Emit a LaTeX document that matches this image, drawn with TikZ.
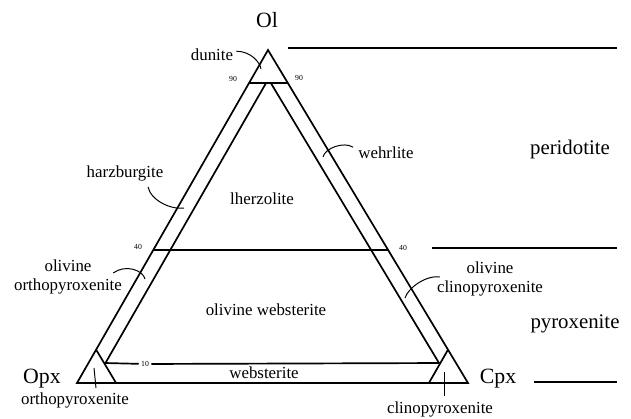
\documentclass[tikz,border=0pt]{standalone}
\usepackage{fontspec}
\setmainfont{Liberation Serif}
\usetikzlibrary{calc}
\tikzstyle{rock} = [inner sep=0pt, 
			anchor=base, 
			font=\fontsize{12}{12.5}\selectfont]
\tikzstyle{rocks} = [inner sep=0pt, 
			align=center, 
			font=\fontsize{12}{13}\selectfont]
\tikzstyle{group} = [inner sep=0pt, 
			anchor=base, 
			font=\fontsize{14.8}{16}\selectfont]
\tikzstyle{pole} = [inner sep=0pt, 
			anchor=base, 
			font=\fontsize{15.5}{17}\selectfont]
\tikzstyle{num} = [inner sep=1.5pt, 
			font=\fontsize{5.5}{6}\selectfont]
\tikzstyle{line} = [draw, line width=1.2pt]
\tikzstyle{leader} = [draw, line width=0.7pt]

\begin{document}
\begin{tikzpicture}[x=0.025cm, y=-0.025cm]
	\useasboundingbox (0,0) rectangle (631,419);
	% corners of the triangle
	\coordinate (ct) at (268,50);
	\coordinate (cl) at (77,383);
	\coordinate (cr) at (468,383);
	% end points of the leaders
	\coordinate (dune) at (261,69);
	\coordinate (hzbe) at (184,208);
	\coordinate (wehe) at (323,157);
	\coordinate (oopxe) at (145,279);
	\coordinate (ocpxe) at (405,298);
	\coordinate (opxe) at (94,368);
	\coordinate (cpxe) at (444,372);

	\draw [line] (ct) -- (cl) -- (cr) -- cycle;
	\draw [line] ($(ct)!0.1!(cl)$) -- ($(ct)!0.1!(cr)$);
	\draw [line] ($(ct)!0.6!(cl)$) -- ($(ct)!0.6!(cr)$);
	\draw [line] ($(cl)!0.1!(ct)$) -- ($(cl)!0.1!(cr)$);
	\draw [line] ($(cr)!0.1!(ct)$) -- ($(cr)!0.1!(cl)$);

	% inner lines at 10 per cent
	\coordinate (itl) at ($(ct)!0.1!(cl)+(17,0)$);
	\coordinate (itr) at ($(ct)!0.1!(cr)+(-17,0)$);
	\coordinate (ibl) at ($(cl)!0.06!(ct)+(17,0)$);
	\coordinate (ibr) at ($(cr)!0.06!(ct)+(-17,0)$);
	\node [num] (n10) at (145,364) {10};
	\draw [line] (itl) -- (ibl) -- (n10) -- (ibr) -- (itr);

	% end members
	\node [pole] (ol) at (267,28) {Ol};
	\node [pole] (opx) at (42,383) {Opx};
	\node [pole] (cpx) at (498,383) {Cpx};

	% scale numbers
	\node [num] (n90l) at (233,79) {90};
	\node [num] (n90r) at (299,78) {90};
	\node [num] (n40l) at (138,247) {40};
	\node [num] (n40r) at (403,248) {40};

	% rock names
	\node [rock] (dun) at (212,61) {dunite};
	\node [rock] (hzb) at (125,178) {harzburgite};
	\node [rock] (lhz) at (262,205) {lherzolite};
	\node [rock] (weh) at (386,159) {wehrlite};
	\node [rocks] (oopx) at (68,277) {olivine\\orthopyroxenite};
	\node [rocks] (ocpx) at (490,279) {olivine\\clinopyroxenite};
	\node [rock] (owb) at (266,315) {olivine websterite};
	\node [rock] (wb) at (264,378) {websterite};
	\node [rock] (opxr) at (75,404) {orthopyroxenite};
	\node [rock] (cpxr) at (440,413) {clinopyroxenite};

	% groups
	\node [group] (per) at (570,155) {peridotite};
	\node [group] (pyr) at (575,328) {pyroxenite};
	\draw [line] (288,48) -- (617,48);
	\draw [line] (432,248) -- (617,248);
	\draw [line] (534,382) -- (617,382);

	% leaders
	\draw [leader] ($(dun.east)+(3,-4)$) .. controls +(14,0) and +(-1,-7) .. (dune);
	\draw [leader] ($(hzb.south)+(23,5)$) .. controls +(3,14) and +(-12,2) .. (hzbe);
	\draw [leader] ($(weh.west)+(-5,-6)$) .. controls +(-9,-6) and +(2,-9) .. (wehe);
	\draw [leader] ($(oopx.east)+(-9,-4)$) .. controls +(12,-9) and +(-2,-9) .. (oopxe);
	\draw [leader] ($(ocpx.west)+(3,-2)$) .. controls +(-14,-2) and +(3,-10) .. (ocpxe);
	\draw [leader] ($(opxr.north)+(21,-4)$) -- (opxe);
	\draw [leader] ($(cpxr.north)+(4,-5)$) -- (cpxe);
\end{tikzpicture}
\end{document}
